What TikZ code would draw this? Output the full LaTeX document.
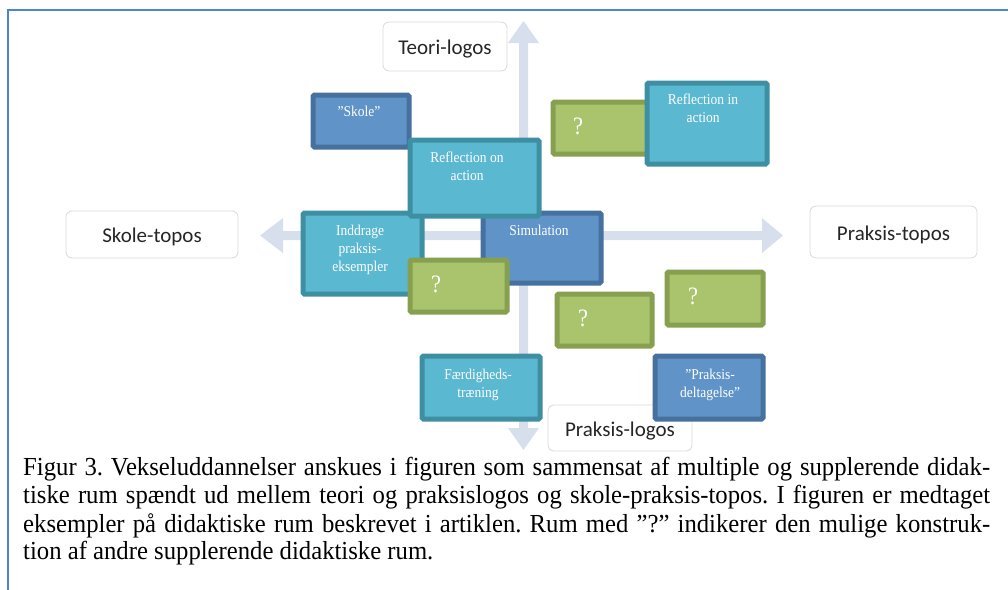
\documentclass[tikz,border=0pt]{standalone}
\usepackage{fontspec}
\setmainfont{Liberation Serif}[FakeStretch=0.95]
\newfontfamily\roomfont{Liberation Serif}[FakeStretch=0.9]
\newfontfamily\lblfont{Carlito}
\frenchspacing
\definecolor{frameblue}{HTML}{4A86CF}
\definecolor{axisgray}{HTML}{D7DFEC}
\definecolor{bluefill}{HTML}{6094C8}
\definecolor{blueedge}{HTML}{46709E}
\definecolor{cyanfill}{HTML}{5BB8D1}
\definecolor{cyanedge}{HTML}{3F8FA3}
\definecolor{greenfill}{HTML}{A9C46C}
\definecolor{greenedge}{HTML}{86A04F}
\definecolor{lblborder}{HTML}{D9D9D9}
\definecolor{lbltext}{HTML}{262626}
\tikzset{
 roombase/.style={draw, line width=5pt, rounded corners=1.5pt, inner sep=0pt, anchor=north west},
 blueroom/.style={roombase, fill=bluefill, draw=blueedge},
 cyanroom/.style={roombase, fill=cyanfill, draw=cyanedge},
 greenroom/.style={roombase, fill=greenfill, draw=greenedge},
 roomtext/.style={text=white, font=\roomfont\fontsize{15}{18}\selectfont, align=center, inner sep=0pt, anchor=north},
 qtext/.style={text=white, font=\roomfont\fontsize{25}{25}\selectfont, inner sep=0pt},
 axislabel/.style={draw=lblborder, fill=white, rounded corners=6pt, line width=0.8pt, font=\lblfont\fontsize{21}{21}\selectfont, text=lbltext, inner sep=0pt, text height=16pt, text depth=0pt},
 capline/.style={anchor=base west, inner sep=0pt, font=\fontsize{26}{28}\selectfont, text=black},
}
\newcommand\roomnode[6]{%
  \node[#2, minimum width={#5-#3-5}, minimum height={#6-#4-5}] (#1) at ({#3+2.5},{#4+2.5}) {};
}
\begin{document}
\begin{tikzpicture}[x=1pt,y=-1pt]
\path[use as bounding box] (0,0) rectangle (1008,589);
\clip (0,0) rectangle (1008,589);
% frame
\draw[frameblue, line width=1.6pt] (8,620) -- (8,10) -- (1030,10);
% axes
\fill[axisgray] (519,43) -- (508,43) -- (523.5,21) -- (539,43) -- (528,43) -- (528,428) -- (539,428) -- (523.5,450) -- (508,428) -- (519,428) -- cycle;
\fill[axisgray] (283,231) -- (283,218) -- (260,235.5) -- (283,253) -- (283,240) -- (762,240) -- (762,253) -- (783,235.5) -- (762,218) -- (762,231) -- cycle;
% axis labels
\node[axislabel, minimum width=124, minimum height=49] (teori) at (445,46.5) {Teori-logos};
\node[axislabel, minimum width=172, minimum height=47] (skoletopos) at (152,234.5) {Skole-topos};
\node[axislabel, minimum width=167, minimum height=52] (praksistopos) at (893.5,232) {Praksis-topos};
\node[axislabel, minimum width=144, minimum height=46] (praksislogos) at (620,428) {Praksis-logos};
% rooms
\roomnode{skole}{blueroom}{308}{90}{409}{147}
\node[roomtext] (skole-t) at (359,106) {”Skole”};
\roomnode{indd}{cyanroom}{298}{208}{422}{294}
\node[roomtext] (indd-t) at (360,225) {Inddrage\\praksis-\\eksempler};
\roomnode{sim}{blueroom}{478}{208}{601}{283}
\node[roomtext] (sim-t) at (539,225) {Simulation};
\roomnode{roa}{cyanroom}{405}{135}{539}{216}
\node[roomtext] (roa-t) at (467,152) {Reflection on\\action};
\roomnode{q2}{greenroom}{405}{255}{507}{312}
\node[qtext] (q2-t) at (436,284) {?};
\roomnode{q1}{greenroom}{548}{97}{649}{154}
\node[qtext] (q1-t) at (578,126) {?};
\roomnode{ria}{cyanroom}{642}{78}{767}{164}
\node[roomtext] (ria-t) at (703,94) {Reflection in\\action};
\roomnode{q3}{greenroom}{552}{289}{652}{346}
\node[qtext] (q3-t) at (583,318) {?};
\roomnode{q4}{greenroom}{662}{267}{763}{325}
\node[qtext] (q4-t) at (693,296) {?};
\roomnode{faer}{cyanroom}{417}{351}{540}{419}
\node[roomtext] (faer-t) at (478,369) {Færdigheds-\\træning};
\roomnode{pdelt}{blueroom}{650}{351}{763}{419}
\node[roomtext] (pdelt-t) at (710,369) {”Praksis-\\deltagelse”};
% caption
\node[capline] (cap1) at (23,475) {\makebox[967pt][s]{Figur 3. Vekseluddannelser anskues i figuren som sammensat af multiple og supplerende didak-}};
\node[capline] (cap2) at (23,503) {\makebox[967pt][s]{tiske rum spændt ud mellem teori og praksislogos og skole-praksis-topos. I figuren er medtaget}};
\node[capline] (cap3) at (23,532) {\makebox[967pt][s]{eksempler på didaktiske rum beskrevet i artiklen. Rum med ”?” indikerer den mulige konstruk-}};
\node[capline] (cap4) at (23,559) {tion af andre supplerende didaktiske rum.};
\end{tikzpicture}
\end{document}
